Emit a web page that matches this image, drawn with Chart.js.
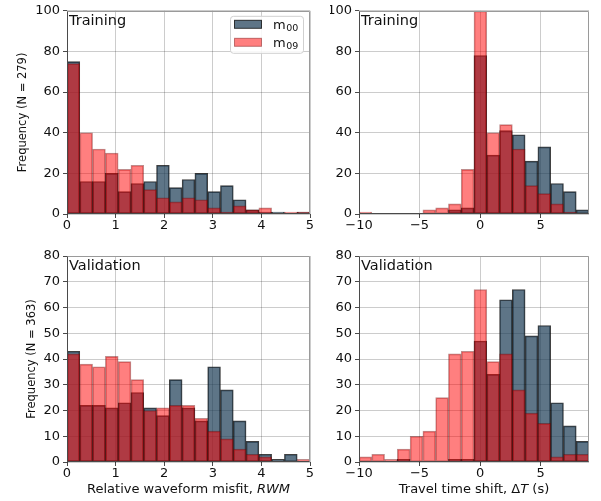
<!DOCTYPE html>
<html>
<head>
<meta charset="utf-8">
<script src="https://cdn.jsdelivr.net/npm/chart.js@4.4.1/dist/chart.umd.min.js"></script>
<style>
  html, body { margin: 0; padding: 0; background: #ffffff; }
  #figure { position: relative; width: 601px; height: 501px; overflow: hidden; background: #ffffff; }
  #figure canvas { position: absolute; }
</style>
</head>
<body>
<div id="figure">
  <canvas id="trainRwm" width="330" height="245" style="left:0px;top:0px"></canvas>
  <canvas id="trainDt" width="271" height="245" style="left:330px;top:0px"></canvas>
  <canvas id="validRwm" width="330" height="256" style="left:0px;top:245px"></canvas>
  <canvas id="validDt" width="271" height="256" style="left:330px;top:245px"></canvas>
</div>
<script>
// ---- histogram data (counts per bin) ----
// series names: base letter + subscript model index
const seriesNames = [['m', '00'], ['m', '09']];

// relative waveform misfit: 19 bins over [0, 5]
const rwmRange = [0, 5];
const rwmBinCount = 19;
const rwmTicks = [0, 1, 2, 3, 4, 5];

// travel time shift: 18 bins over [-10, 9]
const dtRange = [-10, 9];
const dtBinCount = 18;
const dtTicks = [-10, -5, 0, 5];

const trainTicksY = [0, 20, 40, 60, 80, 100];
const validTicksY = [0, 10, 20, 30, 40, 50, 60, 70, 80];

const trainRwmM00 = [75, 16, 16, 20, 11, 15, 16, 24, 13, 17, 20, 11, 14, 7, 2, 1, 1, 0, 1];
const trainRwmM09 = [74, 40, 32, 30, 22, 24, 12, 8, 6, 8, 7, 3, 1, 4, 2, 3, 0, 1, 1];

const trainDtM00 = [0, 0, 0, 0, 0, 0, 0, 2, 3, 78, 29, 41, 39, 26, 33, 15, 11, 2];
const trainDtM09 = [1, 0, 0, 0, 0, 2, 3, 5, 22, 100, 40, 44, 32, 14, 10, 5, 1, 0];

const validRwmM00 = [43, 22, 22, 21, 23, 27, 21, 18, 32, 21, 16, 37, 28, 16, 8, 3, 1, 3, 0];
const validRwmM09 = [42, 38, 37, 41, 39, 32, 20, 21, 22, 22, 17, 12, 9, 5, 3, 2, 0, 0, 1];

const validDtM00 = [0, 0, 0, 1, 0, 0, 0, 1, 1, 47, 34, 63, 67, 49, 53, 23, 14, 8];
const validDtM09 = [2, 3, 1, 5, 10, 12, 25, 42, 43, 67, 39, 42, 28, 19, 15, 2, 3, 3];

// ---- styling ----
const FONT = 'DejaVu Sans';
const TEXT = '#111111';
const M00_FILL = 'rgba(25, 58, 84, 0.7)';
const M00_EDGE = 'rgba(0, 0, 0, 0.75)';
const M09_FILL = 'rgba(255, 0, 0, 0.5)';
const M09_EDGE = 'rgba(110, 0, 0, 0.45)';

function binCenters(range, count) {
  const w = (range[1] - range[0]) / count;
  const out = [];
  for (let i = 0; i < count; i++) out.push(range[0] + (i + 0.5) * w);
  return out;
}

function points(centers, counts) {
  return counts.map((c, i) => ({ x: centers[i], y: c }));
}

function minusLabel(v) {
  return v < 0 ? '\u2212' + Math.abs(v) : String(v);
}

// frame, panel label, legend and mixed-style x title
const panelDecor = {
  id: 'panelDecor',
  afterDatasetsDraw(chart, args, opts) {
    const { ctx, chartArea: a } = chart;
    const L = Math.round(a.left) + 0.5, R = Math.round(a.right) - 0.5;
    const T = Math.round(a.top) + 0.5, B = Math.round(a.bottom) - 0.5;
    ctx.save();
    ctx.lineWidth = 1;
    ctx.strokeStyle = '#9a9a9a';
    ctx.beginPath();
    ctx.moveTo(L, T); ctx.lineTo(R, T); ctx.lineTo(R, B);
    ctx.stroke();
    ctx.strokeStyle = '#4a4a4a';
    ctx.beginPath();
    ctx.moveTo(L, T); ctx.lineTo(L, B); ctx.lineTo(R, B);
    ctx.stroke();
    ctx.restore();
  },
  afterDraw(chart, args, opts) {
    const { ctx, chartArea: a } = chart;
    ctx.save();
    ctx.fillStyle = TEXT;
    ctx.textBaseline = 'alphabetic';
    ctx.textAlign = 'left';
    // panel label
    if (opts.label) {
      ctx.font = '14.5px "' + FONT + '"';
      ctx.fillText(opts.label, a.left + 2, a.top + 14);
    }
    // legend
    if (opts.legend) {
      const x0 = a.left + 163, y0 = a.top + 5, w = 73, h = 37, r = 3;
      ctx.fillStyle = 'rgba(255,255,255,0.85)';
      ctx.strokeStyle = '#d0d0d0';
      ctx.lineWidth = 1;
      ctx.beginPath();
      ctx.roundRect(x0 + 0.5, y0 + 0.5, w, h, r);
      ctx.fill();
      ctx.stroke();
      const items = [
        { name: seriesNames[0], fill: M00_FILL, edge: M00_EDGE },
        { name: seriesNames[1], fill: M09_FILL, edge: M09_EDGE }
      ];
      items.forEach((it, i) => {
        const sy = y0 + 4.5 + i * 18;
        ctx.fillStyle = it.fill;
        ctx.fillRect(x0 + 4.5, sy, 27, 8);
        ctx.strokeStyle = it.edge;
        ctx.strokeRect(x0 + 4.5, sy, 27, 8);
        ctx.fillStyle = TEXT;
        ctx.font = '13px "' + FONT + '"';
        const tx = x0 + 43;
        ctx.fillText(it.name[0], tx, sy + 8.5);
        const mw = ctx.measureText(it.name[0]).width;
        ctx.font = '9.5px "' + FONT + '"';
        ctx.fillText(it.name[1], tx + mw + 0.5, sy + 11);
      });
    }
    // x axis title with italic symbol
    if (opts.xTitle) {
      const parts = opts.xTitle;
      const fonts = parts.map(p => (p.italic ? 'oblique ' : '') + '13px "' + FONT + '"');
      let total = 0;
      const widths = parts.map((p, i) => { ctx.font = fonts[i]; const m = ctx.measureText(p.text).width; total += m; return m; });
      let x = (a.left + a.right) / 2 - total / 2;
      ctx.fillStyle = TEXT;
      parts.forEach((p, i) => {
        ctx.font = fonts[i];
        ctx.fillText(p.text, x, a.bottom + 30.5);
        x += widths[i];
      });
    }
    ctx.restore();
  }
};

function makeHist(id, cfg) {
  const centers = binCenters(cfg.range, cfg.bins);
  const barBase = {
    borderWidth: 1,
    borderSkipped: false,
    grouped: false,
    categoryPercentage: 1,
    barPercentage: 1
  };
  return new Chart(document.getElementById(id), {
    type: 'bar',
    data: {
      datasets: [
        Object.assign({ label: seriesNames[0].join(''), data: points(centers, cfg.m00),
          backgroundColor: M00_FILL, borderColor: M00_EDGE, order: 1 }, barBase),
        Object.assign({ label: seriesNames[1].join(''), data: points(centers, cfg.m09),
          backgroundColor: M09_FILL, borderColor: M09_EDGE, order: 0 }, barBase)
      ]
    },
    options: {
      responsive: false,
      animation: false,
      devicePixelRatio: 1,
      layout: { padding: cfg.padding },
      plugins: {
        legend: { display: false },
        tooltip: { enabled: false },
        panelDecor: { label: cfg.label, legend: cfg.legend, xTitle: cfg.xTitle }
      },
      scales: {
        x: {
          type: 'linear',
          min: cfg.range[0],
          max: cfg.range[1],
          offset: false,
          grid: { offset: false, color: 'rgba(0,0,0,0.2)', lineWidth: 1, tickLength: 4, tickColor: '#4a4a4a', drawTicks: true },
          border: { display: false },
          ticks: { font: { family: FONT, size: 13 }, color: TEXT, padding: 0, maxRotation: 0, autoSkip: false, callback: minusLabel },
          afterBuildTicks: s => { s.ticks = cfg.xTicks.map(v => ({ value: v })); },
          afterFit: s => { s.height = cfg.xHeight; }
        },
        y: {
          min: 0,
          max: cfg.yTicks[cfg.yTicks.length - 1],
          grid: { color: 'rgba(0,0,0,0.2)', lineWidth: 1, tickLength: 4, tickColor: '#4a4a4a', drawTicks: true },
          border: { display: false },
          ticks: { font: { family: FONT, size: 13 }, color: TEXT, padding: 3 },
          afterBuildTicks: s => { s.ticks = cfg.yTicks.map(v => ({ value: v })); },
          afterFit: s => { s.width = cfg.yWidth; },
          title: cfg.yTitle ? {
            display: true, text: cfg.yTitle, color: TEXT,
            font: { family: FONT, size: 11.5 }, padding: { top: cfg.yTitlePad, bottom: 0 }
          } : { display: false }
        }
      }
    },
    plugins: [panelDecor]
  });
}

const rwmTitle = [{ text: 'Relative waveform misfit, ', italic: false }, { text: 'RWM', italic: true }];
const dtTitle = [{ text: 'Travel time shift, \u0394', italic: false }, { text: 'T', italic: true }, { text: ' (s)', italic: false }];

makeHist('trainRwm', {
  range: rwmRange, bins: rwmBinCount, xTicks: rwmTicks, yTicks: trainTicksY,
  m00: trainRwmM00, m09: trainRwmM09,
  padding: { left: 0, top: 9, right: 20, bottom: 0 }, yWidth: 67, xHeight: 31,
  yTitle: 'Frequency (N = 279)', yTitlePad: 16, label: 'Training', legend: true
});
makeHist('trainDt', {
  range: dtRange, bins: dtBinCount, xTicks: dtTicks, yTicks: trainTicksY,
  m00: trainDtM00, m09: trainDtM09,
  padding: { left: 0, top: 9, right: 12, bottom: 0 }, yWidth: 29, xHeight: 31,
  label: 'Training'
});
makeHist('validRwm', {
  range: rwmRange, bins: rwmBinCount, xTicks: rwmTicks, yTicks: validTicksY,
  m00: validRwmM00, m09: validRwmM09,
  padding: { left: 0, top: 11, right: 20, bottom: 0 }, yWidth: 67, xHeight: 39,
  yTitle: 'Frequency (N = 363)', yTitlePad: 25, label: 'Validation', xTitle: rwmTitle
});
makeHist('validDt', {
  range: dtRange, bins: dtBinCount, xTicks: dtTicks, yTicks: validTicksY,
  m00: validDtM00, m09: validDtM09,
  padding: { left: 0, top: 11, right: 12, bottom: 0 }, yWidth: 29, xHeight: 39,
  label: 'Validation', xTitle: dtTitle
});
</script>
</body>
</html>
